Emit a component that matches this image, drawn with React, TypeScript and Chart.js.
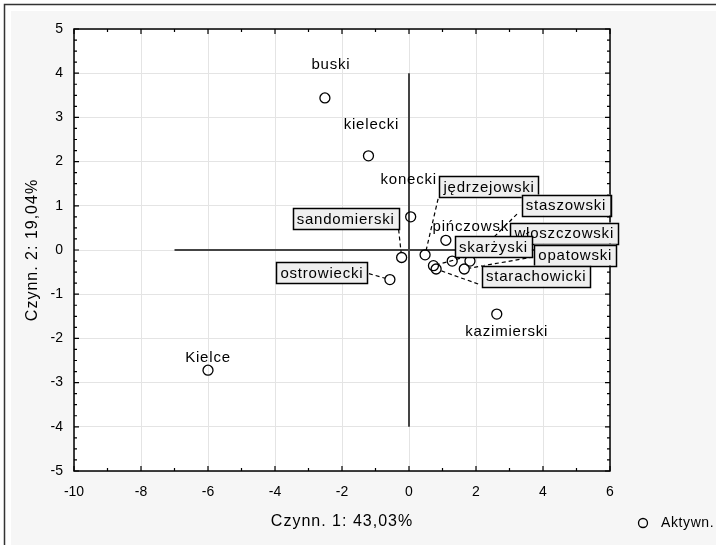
import React, { useEffect, useRef } from "react";
import { Chart, registerables } from "chart.js";

Chart.register(...registerables);

// Powiaty: scores on the first two factors
const names = [
  "Kielce",
  "buski",
  "kielecki",
  "konecki",
  "sandomierski",
  "ostrowiecki",
  "jędrzejowski",
  "pińczowski",
  "kazimierski",
  "staszowski",
  "włoszczowski",
  "skarżyski",
  "opatowski",
  "starachowicki",
];
const factor1 = [-6.0, -2.51, -1.21, 0.05, -0.22, -0.57, 0.48, 1.1, 2.62, 1.82, 1.29, 0.73, 1.65, 0.81];
const factor2 = [-2.72, 3.44, 2.13, 0.75, -0.17, -0.67, -0.11, 0.22, -1.45, -0.25, -0.25, -0.355, -0.43, -0.43];

const xTicks = [-10, -8, -6, -4, -2, 0, 2, 4, 6];
const yTicks = [-5, -4, -3, -2, -1, 0, 1, 2, 3, 4, 5];

const xTitle = "Czynn. 1: 43,03%";
const yTitle = "Czynn. 2: 19,04%";
const legendText = "Aktywn.";

// Label placement relative to each point (pixels): offset of the label centre,
// whether it sits in a box, and where the dashed leader leaves the box.
const labelDx = [0, 6, 3, -2, -56, -68, 64, 27, 10, 96, 112, 60, 111, 100];
const labelDy = [-12, -33, -31, -37, -39, -7, -68, -13, 18, -56, -28, -19, -14, 7];
const boxed = [false, false, false, false, true, true, true, false, false, true, true, true, true, true];
const anchorDx = [0, 0, 0, 0, 53, 47, -51, 0, 0, -49, -58, -20, -42, -58];
const anchorDy = [0, 0, 0, 0, 11, 1, 12, 0, 0, 9, 4, 8, 2, 8];

const FONT = '"Liberation Sans", Arial, Helvetica, sans-serif';

const decor = {
  id: "decor",
  beforeDraw(chart: any) {
    const { ctx, width, height, chartArea: a } = chart;
    ctx.save();
    ctx.fillStyle = "#ffffff";
    ctx.fillRect(0, 0, width, height);
    ctx.fillStyle = "#f6f6f6";
    ctx.fillRect(11, 11, width - 11, height - 11);
    ctx.strokeStyle = "#333333";
    ctx.lineWidth = 1.5;
    ctx.beginPath();
    ctx.moveTo(4.5, height);
    ctx.lineTo(4.5, 4.5);
    ctx.lineTo(width, 4.5);
    ctx.stroke();
    ctx.fillStyle = "#ffffff";
    ctx.fillRect(a.left, a.top, a.right - a.left, a.bottom - a.top);
    ctx.restore();
  },
  beforeDatasetsDraw(chart: any) {
    const { ctx } = chart;
    const xs = chart.scales.x;
    const ys = chart.scales.y;
    ctx.save();
    ctx.strokeStyle = "#444444";
    ctx.lineWidth = 2;
    ctx.beginPath();
    ctx.moveTo(xs.getPixelForValue(-7), ys.getPixelForValue(0));
    ctx.lineTo(xs.getPixelForValue(6), ys.getPixelForValue(0));
    ctx.moveTo(xs.getPixelForValue(0), ys.getPixelForValue(4));
    ctx.lineTo(xs.getPixelForValue(0), ys.getPixelForValue(-4));
    ctx.stroke();
    ctx.restore();
  },
  afterDatasetsDraw(chart: any) {
    const { ctx, chartArea: a } = chart;
    const xs = chart.scales.x;
    const ys = chart.scales.y;

    ctx.save();
    // frame and inward ticks
    ctx.strokeStyle = "#000000";
    ctx.lineWidth = 1.5;
    ctx.strokeRect(a.left, a.top, a.right - a.left, a.bottom - a.top);
    ctx.lineWidth = 1.2;
    ctx.beginPath();
    for (let v = -10; v <= 6; v += 1) {
      const p = xs.getPixelForValue(v);
      const len = v % 2 === 0 ? 5 : 3;
      ctx.moveTo(p, a.bottom);
      ctx.lineTo(p, a.bottom - len);
      ctx.moveTo(p, a.top);
      ctx.lineTo(p, a.top + len);
    }
    for (let i = -20; i <= 20; i++) {
      const v = i / 4;
      const p = ys.getPixelForValue(v);
      const len = i % 4 === 0 ? 5 : 3;
      ctx.moveTo(a.left, p);
      ctx.lineTo(a.left + len, p);
      ctx.moveTo(a.right, p);
      ctx.lineTo(a.right - len, p);
    }
    ctx.stroke();

    ctx.font = `15px ${FONT}`;
    (ctx as any).letterSpacing = "0.8px";
    ctx.textAlign = "center";
    ctx.textBaseline = "middle";

    const px = names.map((_, i) => xs.getPixelForValue(factor1[i]));
    const py = names.map((_, i) => ys.getPixelForValue(factor2[i]));

    // plain labels
    names.forEach((n, i) => {
      if (boxed[i]) return;
      ctx.fillStyle = "#000000";
      ctx.fillText(n, px[i] + labelDx[i], py[i] + labelDy[i]);
    });

    // dashed leaders
    ctx.strokeStyle = "#000000";
    ctx.lineWidth = 1.2;
    ctx.setLineDash([4, 3]);
    names.forEach((_, i) => {
      if (!boxed[i]) return;
      const sx = px[i] + labelDx[i] + anchorDx[i];
      const sy = py[i] + labelDy[i] + anchorDy[i];
      const dx = px[i] - sx;
      const dy = py[i] - sy;
      const d = Math.hypot(dx, dy) || 1;
      const ex = px[i] - (dx / d) * 5;
      const ey = py[i] - (dy / d) * 5;
      ctx.beginPath();
      ctx.moveTo(sx, sy);
      ctx.lineTo(ex, ey);
      ctx.stroke();
    });
    ctx.setLineDash([]);

    // boxed labels
    names.forEach((n, i) => {
      if (!boxed[i]) return;
      const cx = px[i] + labelDx[i];
      const cy = py[i] + labelDy[i];
      const w = ctx.measureText(n).width + 8;
      const h = 21;
      ctx.fillStyle = "#efefef";
      ctx.fillRect(cx - w / 2, cy - h / 2, w, h);
      ctx.strokeStyle = "#000000";
      ctx.lineWidth = 1.5;
      ctx.strokeRect(Math.round(cx - w / 2) + 0.5, Math.round(cy - h / 2) + 0.5, Math.round(w), h);
      ctx.fillStyle = "#000000";
      ctx.fillText(n, cx, cy + 1);
    });

    // axis titles
    ctx.font = `16px ${FONT}`;
    (ctx as any).letterSpacing = "1px";
    ctx.fillStyle = "#000000";
    ctx.fillText(xTitle, (a.left + a.right) / 2, 522);
    ctx.save();
    ctx.translate(33, (a.top + a.bottom) / 2);
    ctx.rotate(-Math.PI / 2);
    ctx.fillText(yTitle, 0, 0);
    ctx.restore();

    // legend
    ctx.beginPath();
    ctx.lineWidth = 1.3;
    ctx.strokeStyle = "#000000";
    ctx.arc(643, 523, 4.5, 0, Math.PI * 2);
    ctx.stroke();
    ctx.font = `14px ${FONT}`;
    (ctx as any).letterSpacing = "0.6px";
    ctx.textAlign = "left";
    ctx.fillText(legendText, 661, 523);
    ctx.restore();
  },
};

export default function App() {
  const ref = useRef<HTMLCanvasElement>(null);

  useEffect(() => {
    const chart = new Chart(ref.current as HTMLCanvasElement, {
      type: "scatter",
      data: {
        datasets: [
          {
            label: legendText,
            data: factor1.map((x, i) => ({ x, y: factor2[i] })),
            pointRadius: 5,
            pointHoverRadius: 5,
            pointStyle: "circle",
            borderColor: "#000000",
            backgroundColor: "rgba(0,0,0,0)",
            borderWidth: 1.3,
          },
        ],
      },
      options: {
        responsive: false,
        animation: false,
        devicePixelRatio: 1,
        events: [],
        layout: { padding: { top: 29, right: 106, left: 0, bottom: 0 } },
        plugins: { legend: { display: false }, tooltip: { enabled: false } },
        scales: {
          x: {
            type: "linear",
            min: -10,
            max: 6,
            afterBuildTicks: (s: any) => {
              s.ticks = xTicks.map((v) => ({ value: v }));
            },
            afterFit: (s: any) => {
              s.height = 74;
            },
            grid: { color: "#e4e4e4", drawTicks: false },
            border: { display: false },
            ticks: {
              color: "#000000",
              font: { family: FONT, size: 14 },
              padding: 13,
              maxRotation: 0,
              autoSkip: false,
            },
          },
          y: {
            type: "linear",
            min: -5,
            max: 5,
            afterBuildTicks: (s: any) => {
              s.ticks = yTicks.map((v) => ({ value: v }));
            },
            afterFit: (s: any) => {
              s.width = 74;
            },
            grid: { color: "#e4e4e4", drawTicks: false },
            border: { display: false },
            ticks: {
              color: "#000000",
              font: { family: FONT, size: 14 },
              padding: 11,
              autoSkip: false,
            },
          },
        },
      },
      plugins: [decor],
    });
    return () => chart.destroy();
  }, []);

  return (
    <div style={{ position: "fixed", left: 0, top: 0, width: 716, height: 545 }}>
      <canvas ref={ref} width={716} height={545} />
    </div>
  );
}
